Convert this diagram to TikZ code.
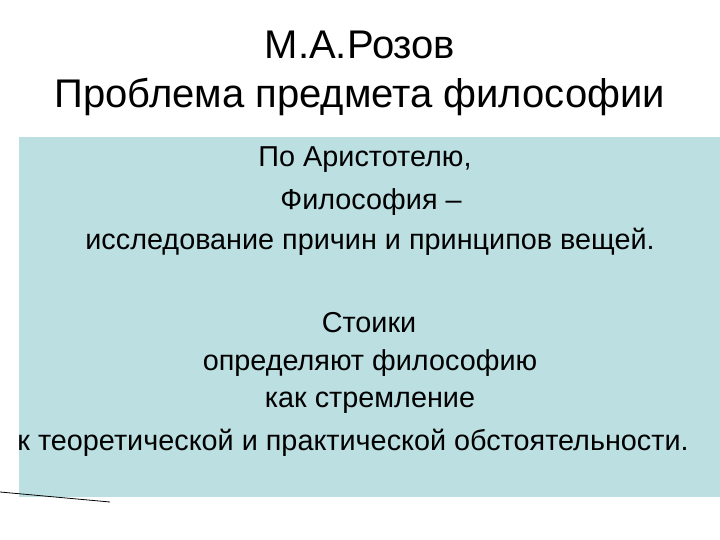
\documentclass[tikz,border=0pt]{standalone}
\usepackage{fontspec}
\setmainfont{Liberation Sans}
\definecolor{boxc}{HTML}{BCDFE2}
\begin{document}
\begin{tikzpicture}[x=1pt,y=-1pt,
  ttl/.style={font=\fontsize{40}{46}\selectfont,anchor=center},
  bd/.style={font=\fontsize{28.8}{34}\selectfont,anchor=center}]
\useasboundingbox (0,0) rectangle (720,540);
\fill[boxc] (19,137) rectangle (720,497);
\node[ttl] (t1) at (360,45) {М.А.Розов};
\node[ttl] (t2) at (360,97) {Проблема предмета философии};
\node[bd] (b1) at (365,160) {По Аристотелю,};
\node[bd] (b2) at (371,202) {Философия –};
\node[bd] (b3) at (370,242) {исследование причин и принципов вещей.};
\node[bd] (b4) at (369,323) {Стоики};
\node[bd] (b5) at (370,363) {определяют философию};
\node[bd] (b6) at (370,403) {как стремление};
\node[bd] (b7) at (353,443) {к теоретической и практической обстоятельности.};
\coordinate (l1) at (0,492);
\coordinate (l2) at (110,502);
\draw[line width=0.8pt] (l1) -- (l2);
\end{tikzpicture}
\end{document}
